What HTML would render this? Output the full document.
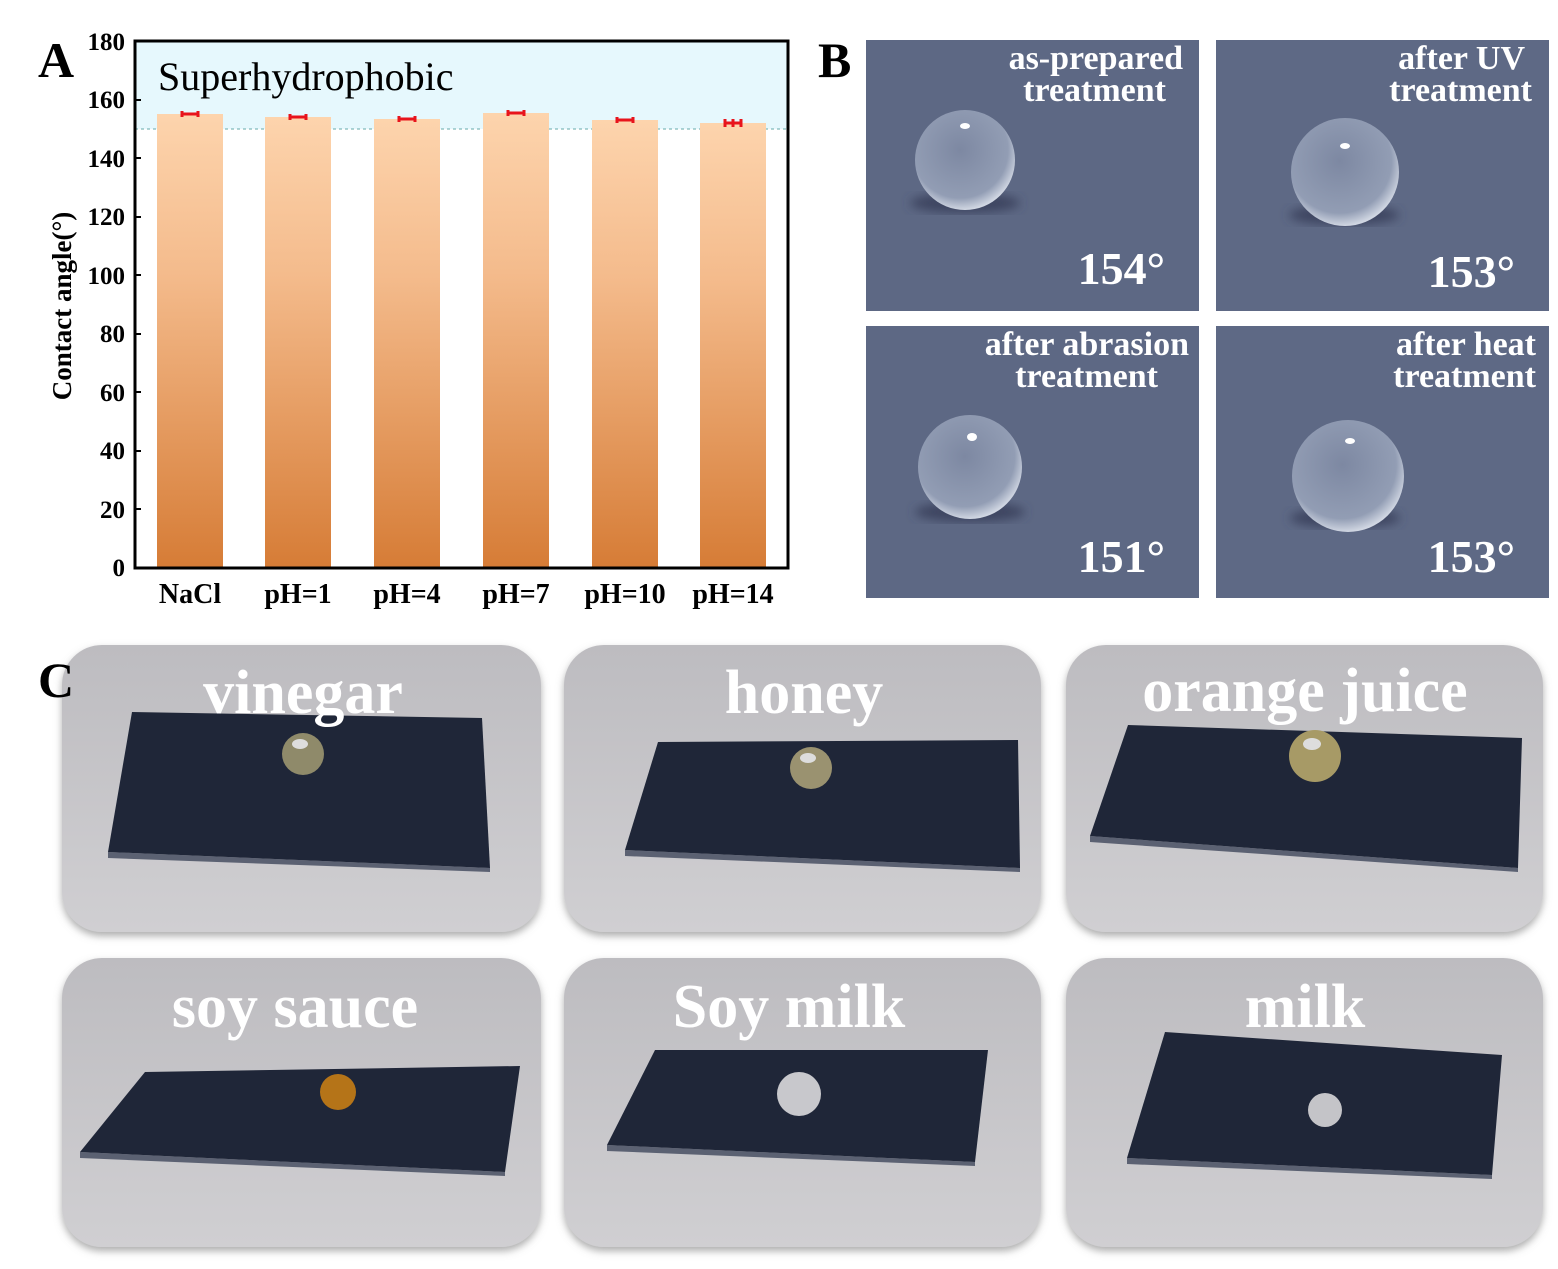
<!DOCTYPE html>
<html><head><meta charset="utf-8"><style>
body{margin:0;background:#fff}
svg{display:block}
text{font-family:"Liberation Serif",serif}
</style></head><body>
<svg width="1558" height="1269" viewBox="0 0 1558 1269" xmlns="http://www.w3.org/2000/svg">
<defs>
<linearGradient id="bar" x1="0" y1="0" x2="0" y2="1"><stop offset="0" stop-color="#fdd4ad"/><stop offset="0.35" stop-color="#f4bb8c"/><stop offset="1" stop-color="#d67c36"/></linearGradient>
<radialGradient id="drop" cx="0.45" cy="0.4" r="0.6"><stop offset="0" stop-color="#7d88a2"/><stop offset="0.8" stop-color="#929db4"/><stop offset="1" stop-color="#d0d6e2"/></radialGradient>
<linearGradient id="card" x1="0" y1="0" x2="0" y2="1"><stop offset="0" stop-color="#bdbcc0"/><stop offset="1" stop-color="#d0cfd2"/></linearGradient>
<filter id="sh" x="-5%" y="-5%" width="110%" height="115%"><feDropShadow dx="0" dy="4" stdDeviation="4" flood-color="#777" flood-opacity="0.6"/></filter>
<filter id="bl"><feGaussianBlur stdDeviation="5"/></filter>
</defs>

<!-- Panel A -->
<text x="38" y="77" font-size="50" font-weight="bold">A</text>
<rect x="135" y="41" width="653" height="88" fill="#e6f8fd"/>
<line x1="135" y1="129" x2="788" y2="129" stroke="#6aa" stroke-width="1" stroke-dasharray="3,3"/>
<text x="158" y="90" font-size="40">Superhydrophobic</text>
<g fill="url(#bar)">
<rect x="157" y="114" width="66" height="454"/>
<rect x="265" y="117" width="66" height="451"/>
<rect x="374" y="119" width="66" height="449"/>
<rect x="483" y="113" width="66" height="455"/>
<rect x="592" y="120" width="66" height="448"/>
<rect x="700" y="123" width="66" height="445"/>
</g>
<g stroke="#e8141c" stroke-width="3">
<path d="M182 111v6M198 111v6M182 114h16"/>
<path d="M290 114v6M306 114v6M290 117h16"/>
<path d="M399 116v6M415 116v6M399 119h16"/>
<path d="M508 110v6M524 110v6M508 113h16"/>
<path d="M617 117v6M633 117v6M617 120h16"/>
<path d="M725 119v8M741 119v8M725 123h16M733 119v8"/>
</g>
<rect x="135" y="41" width="653" height="527" fill="none" stroke="#000" stroke-width="3"/>
<g font-size="25" font-weight="bold" text-anchor="end">
<text x="125" y="576">0</text><text x="125" y="518">20</text><text x="125" y="459">40</text>
<text x="125" y="401">60</text><text x="125" y="342">80</text><text x="125" y="284">100</text>
<text x="125" y="225">120</text><text x="125" y="167">140</text><text x="125" y="108">160</text>
<text x="125" y="50">180</text>
</g>
<g stroke="#000" stroke-width="2">
<path d="M135 509h6M135 451h6M135 392h6M135 334h6M135 275h6M135 217h6M135 158h6M135 100h6"/>
</g>
<text transform="translate(71,306) rotate(-90)" font-size="27" font-weight="bold" text-anchor="middle">Contact angle(°)</text>
<g font-size="28" font-weight="bold" text-anchor="middle">
<text x="190" y="603">NaCl</text><text x="298" y="603">pH=1</text><text x="407" y="603">pH=4</text>
<text x="516" y="603">pH=7</text><text x="625" y="603">pH=10</text><text x="733" y="603">pH=14</text>
</g>

<!-- Panel B -->
<text x="818" y="77" font-size="50" font-weight="bold">B</text>
<g>
<rect x="866" y="40" width="333" height="271" fill="#5d6884"/>
<rect x="1216" y="40" width="333" height="271" fill="#5e6985"/>
<rect x="866" y="326" width="333" height="272" fill="#5d6884"/>
<rect x="1216" y="326" width="333" height="272" fill="#5e6985"/>
<ellipse cx="965" cy="203" rx="55" ry="10" fill="#3c4560" filter="url(#bl)"/>
<circle cx="965" cy="160" r="50" fill="url(#drop)"/>
<ellipse cx="965" cy="126" rx="5" ry="3" fill="#fff"/>
<ellipse cx="1344" cy="215" rx="55" ry="10" fill="#3c4560" filter="url(#bl)"/>
<circle cx="1345" cy="172" r="54" fill="url(#drop)"/>
<ellipse cx="1345" cy="146" rx="5" ry="3" fill="#fff"/>
<ellipse cx="970" cy="512" rx="55" ry="10" fill="#3c4560" filter="url(#bl)"/>
<circle cx="970" cy="467" r="52" fill="url(#drop)"/>
<ellipse cx="972" cy="437" rx="5" ry="4" fill="#fff"/>
<ellipse cx="1345" cy="518" rx="55" ry="10" fill="#3c4560" filter="url(#bl)"/>
<circle cx="1348" cy="476" r="56" fill="url(#drop)"/>
<ellipse cx="1350" cy="441" rx="5" ry="3" fill="#fff"/>
</g>
<g fill="#fff" font-weight="bold" text-anchor="end">
<g font-size="34">
<text x="1183" y="69">as-prepared</text><text x="1166" y="101">treatment</text>
<text x="1525" y="69">after UV</text><text x="1532" y="101">treatment</text>
<text x="1189" y="355">after abrasion</text><text x="1158" y="387">treatment</text>
<text x="1536" y="355">after heat</text><text x="1536" y="387">treatment</text>
</g>
<g font-size="46">
<text x="1165" y="284">154°</text><text x="1515" y="287">153°</text>
<text x="1165" y="572">151°</text><text x="1515" y="572">153°</text>
</g>
</g>

<!-- Panel C -->
<g filter="url(#sh)" fill="url(#card)">
<rect x="62" y="645" width="479" height="287" rx="40"/>
<rect x="564" y="645" width="477" height="287" rx="40"/>
<rect x="1066" y="645" width="477" height="287" rx="40"/>
<rect x="62" y="958" width="479" height="289" rx="40"/>
<rect x="564" y="958" width="477" height="289" rx="40"/>
<rect x="1066" y="958" width="477" height="289" rx="40"/>
</g>
<g fill="#5b6172">
<polygon points="108,852 490,868 490,872 108,858"/>
<polygon points="625,850 1020,868 1020,872 625,856"/>
<polygon points="1090,836 1518,868 1518,872 1090,842"/>
<polygon points="80,1152 505,1172 505,1176 80,1158"/>
<polygon points="607,1145 975,1162 975,1166 607,1151"/>
<polygon points="1127,1158 1492,1175 1492,1179 1127,1164"/>
</g>
<g fill="#1f2638">
<polygon points="132,712 482,718 490,868 108,852"/>
<polygon points="658,742 1018,740 1020,868 625,850"/>
<polygon points="1128,725 1522,738 1518,868 1090,836"/>
<polygon points="145,1072 520,1066 505,1172 80,1152"/>
<polygon points="655,1050 988,1050 975,1162 607,1145"/>
<polygon points="1165,1032 1502,1055 1492,1175 1127,1158"/>
</g>
<g>
<circle cx="303" cy="754" r="21" fill="#8f8a6a"/><ellipse cx="300" cy="744" rx="8" ry="5" fill="#ddd"/>
<circle cx="811" cy="768" r="21" fill="#9a9270"/><ellipse cx="808" cy="758" rx="8" ry="5" fill="#ddd"/>
<circle cx="1315" cy="756" r="26" fill="#a79a66"/><ellipse cx="1312" cy="744" rx="9" ry="6" fill="#ddd"/>
<circle cx="338" cy="1092" r="18" fill="#b57418"/>
<circle cx="799" cy="1094" r="22" fill="#c8c8cc"/>
<circle cx="1325" cy="1110" r="17" fill="#c4c4c8"/>
</g>
<g fill="#fff" font-weight="bold" font-size="62" text-anchor="middle">
<text x="303" y="713">vinegar</text><text x="804" y="713">honey</text><text x="1305" y="711">orange juice</text>
<text x="295" y="1027">soy sauce</text><text x="789" y="1027">Soy milk</text><text x="1305" y="1027">milk</text>
</g>
<text x="38" y="697" font-size="50" font-weight="bold">C</text>
</svg>
</body></html>
